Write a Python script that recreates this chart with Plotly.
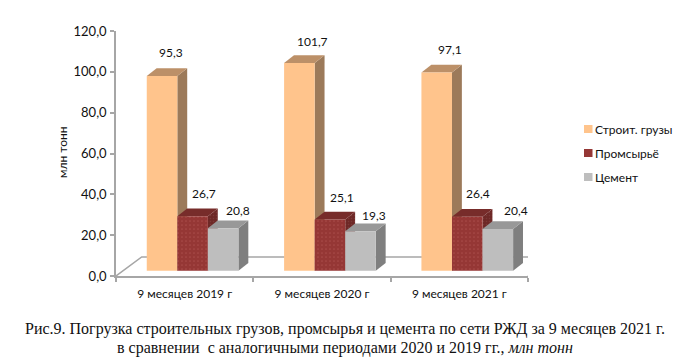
import plotly.graph_objects as go

categories = ["9 месяцев 2019 г", "9 месяцев 2020 г", "9 месяцев 2021 г"]
series_names = ["Строит. грузы", "Промсырьё", "Цемент"]
stroit = [95.3, 101.7, 97.1]
promsyrye = [26.7, 25.1, 26.4]
cement = [20.8, 19.3, 20.4]
series_values = [stroit, promsyrye, cement]

# styling
front = ["#FFC48C", "#953735", "#BEBEBE"]
side = ["#9C7A5A", "#6E2826", "#7F7F7F"]
top = ["#BC9068", "#772C2A", "#989898"]
DOT = "#B9605C"
AXIS = "#A6A6A6"
FONT = "Lato, Carlito, Roboto, sans-serif"
TXT = "#111111"

# 3D geometry in axis units
BASE = 2.6            # front plane lift above the axis floor
DX, DY = 0.072, 3.8   # bar depth
FX, FY = 0.187, 9.3   # floor depth
W = 0.2225            # bar width
START = 0.224         # left edge of first bar in a group

# label nudges in px for each series / category
label_dx = [[8.7, 13, 13.7], [11.8, 12.3, 10.3], [14.7, 13.7, 17.7]]
label_dy = [[24, 21.6, 22.7], [23, 22, 23.4], [18, 15.3, 18.3]]

fig = go.Figure()

# floor
fig.add_trace(go.Scatter(x=[0, FX, 3 + FX, 3], y=[0, FY, FY, 0], mode="lines",
                         line=dict(color=AXIS, width=1.5), cliponaxis=False,
                         hoverinfo="skip", showlegend=False))

# side and top faces, back to front
for s, vals in enumerate(series_values):
    for c, v in enumerate(vals):
        xl = c + START + s * W
        xr = xl + W
        t = BASE + v
        pat = dict(shape=".", fgcolor="#8A4A48", bgcolor=side[s], size=3, solidity=0.2) if s == 1 else None
        fig.add_trace(go.Scatter(x=[xr, xr, xr + DX, xr + DX, xr], y=[BASE, t, t + DY, BASE + DY, BASE],
                                 mode="lines", line=dict(width=0), fill="toself", fillcolor=side[s],
                                 fillpattern=pat, hoverinfo="skip", showlegend=False))
        fig.add_trace(go.Scatter(x=[xl, xr, xr + DX, xl + DX, xl], y=[t, t, t + DY, t + DY, t],
                                 mode="lines", line=dict(width=0), fill="toself", fillcolor=top[s],
                                 hoverinfo="skip", showlegend=False))

# front faces
for s, vals in enumerate(series_values):
    xs = [c + START + s * W + W / 2 for c in range(len(vals))]
    marker = dict(color=front[s], line=dict(width=0))
    if s == 1:
        marker["pattern"] = dict(shape=".", fgcolor=DOT, bgcolor=front[s], size=4, solidity=0.15)
    fig.add_trace(go.Bar(x=xs, y=vals, base=BASE, width=W, name=series_names[s], marker=marker,
                         xaxis="x2", yaxis="y2", showlegend=False))

annotations = []
for s, vals in enumerate(series_values):
    for c, v in enumerate(vals):
        annotations.append(dict(x=c + START + s * W + W / 2, y=BASE + v, xref="x", yref="y",
                                text=f"{v:.1f}".replace(".", ","), showarrow=False,
                                xanchor="center", yanchor="middle",
                                xshift=label_dx[s][c], yshift=label_dy[s][c],
                                font=dict(family=FONT, size=12, color=TXT)))

# legend
shapes = []
for i, name in enumerate(series_names):
    yc = 129 + 24 * i
    shapes.append(dict(type="rect", xref="paper", yref="paper", layer="above",
                       x0=(584 - 116) / 412, x1=(592.5 - 116) / 412,
                       y0=(276 - yc - 4) / 245, y1=(276 - yc + 4) / 245,
                       fillcolor=front[i], line=dict(width=0)))
    annotations.append(dict(x=(593 - 116) / 412, y=(276 - yc) / 245, xref="paper", yref="paper",
                            text=name, showarrow=False, xanchor="left", yanchor="middle",
                            font=dict(family=FONT, size=12, color=TXT)))

# caption
annotations.append(dict(x=(345 - 116) / 412, y=(276 - 329) / 245, xref="paper", yref="paper",
                        text="Рис.9. Погрузка строительных грузов, промсырья и цемента по сети РЖД за 9 месяцев 2021 г.",
                        showarrow=False, xanchor="center", yanchor="middle",
                        font=dict(family="Liberation Serif", size=16, color="#111111")))
annotations.append(dict(x=(345 - 116) / 412, y=(276 - 348) / 245, xref="paper", yref="paper",
                        text="в сравнении  с аналогичными периодами 2020 и 2019 гг., <i>млн тонн</i>",
                        showarrow=False, xanchor="center", yanchor="middle",
                        font=dict(family="Liberation Serif", size=16, color="#111111")))
annotations.append(dict(x=(62 - 116) / 412, y=(276 - 153) / 245, xref="paper", yref="paper",
                        text="млн тонн", textangle=-90, showarrow=False,
                        xanchor="center", yanchor="middle",
                        font=dict(family=FONT, size=12, color=TXT)))

axis_x = dict(range=[0, 3], showgrid=False, zeroline=False, fixedrange=True)
axis_y = dict(range=[0, 120], showgrid=False, zeroline=False, fixedrange=True)

fig.update_layout(
    width=693, height=363, margin=dict(l=116, r=165, t=31, b=87, autoexpand=False),
    paper_bgcolor="white", plot_bgcolor="white", showlegend=False, barmode="overlay",
    separators=", ", shapes=shapes, annotations=annotations,
    font=dict(family=FONT, size=12, color=TXT),
    xaxis=dict(**axis_x, tickmode="array", tickvals=[0.5, 1.5, 2.5], ticktext=categories, ticks="",
               showline=True, linecolor=AXIS, linewidth=1.5, tickfont=dict(family=FONT, size=12, color=TXT),
               minor=dict(tickmode="array", tickvals=[0, 1, 2, 3], ticks="outside", ticklen=4,
                          tickcolor=AXIS, tickwidth=1.5), ticklabelstandoff=6),
    yaxis=dict(**axis_y, tickmode="array", tickvals=[0, 20, 40, 60, 80, 100, 120], tickformat=".1f",
               showline=True, linecolor=AXIS, linewidth=1.5, ticks="outside", ticklen=4, tickcolor=AXIS,
               tickwidth=1.5, tickfont=dict(family=FONT, size=13, color=TXT), ticklabelstandoff=1),
    xaxis2=dict(**axis_x, overlaying="x", visible=False),
    yaxis2=dict(**axis_y, overlaying="y", visible=False),
)

fig.write_html("out.html", config=dict(displayModeBar=False),
               post_script="document.body.style.margin='0';")
